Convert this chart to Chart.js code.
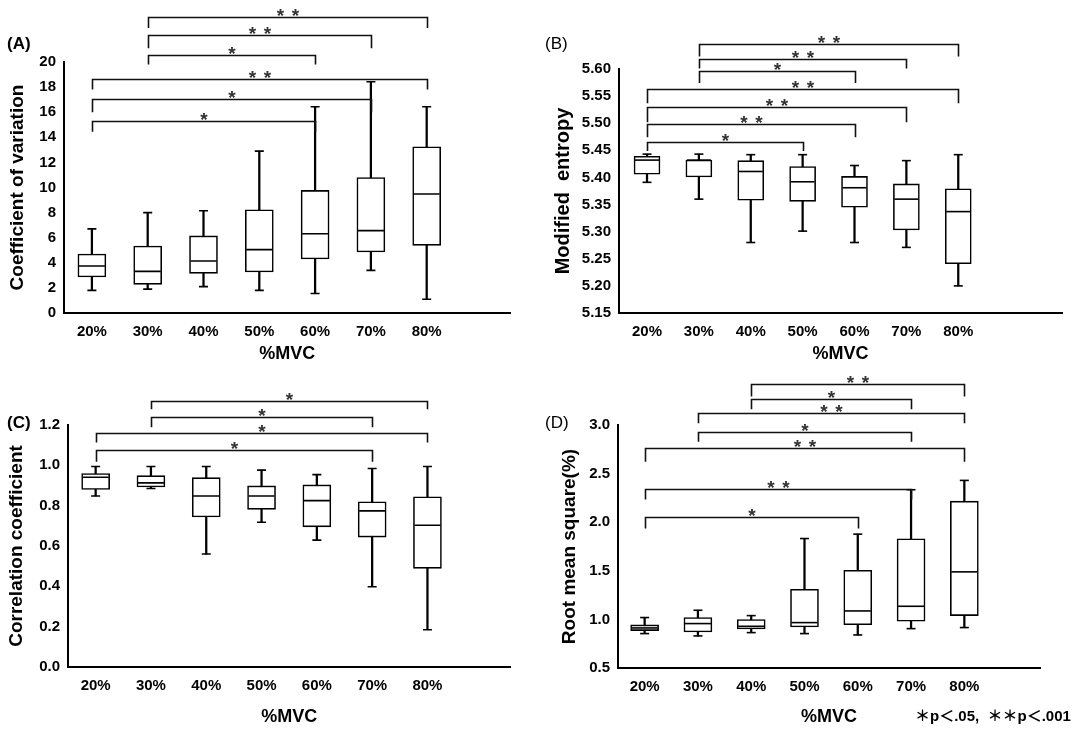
<!DOCTYPE html>
<html>
<head>
<meta charset="utf-8">
<script src="https://cdn.jsdelivr.net/npm/chart.js@4.4.1/dist/chart.umd.min.js"></script>
<style>
body{margin:0;background:#fff;width:1080px;height:731px;position:relative;overflow:hidden}
.panel{position:absolute}
</style>
</head>
<body>
<div class="panel" style="left:0;top:0"><canvas id="cA" width="525" height="370"></canvas></div>
<div class="panel" style="left:530px;top:0"><canvas id="cB" width="550" height="370"></canvas></div>
<div class="panel" style="left:0;top:370px"><canvas id="cC" width="525" height="361"></canvas></div>
<div class="panel" style="left:530px;top:370px"><canvas id="cD" width="550" height="361"></canvas></div>
<script>
Chart.defaults.font.family = "'Liberation Sans', Arial, sans-serif";
Chart.defaults.color = '#000';

var categories = ["20%", "30%", "40%", "50%", "60%", "70%", "80%"];

// (A) coefficient of variation
var cvMin = [1.8, 1.9, 2.1, 1.8, 1.55, 3.4, 1.1];
var cvQ1  = [2.87, 2.28, 3.16, 3.27, 4.3, 4.86, 5.39];
var cvMed = [3.75, 3.32, 4.14, 5.05, 6.32, 6.56, 9.48];
var cvQ3  = [4.7, 5.34, 6.14, 8.23, 9.77, 10.8, 13.25];
var cvMax = [6.7, 8.0, 8.15, 12.9, 16.44, 18.43, 16.44];
var cvTicks = [0, 2, 4, 6, 8, 10, 12, 14, 16, 18, 20];
var cvPairs = [[0, 4], [0, 5], [0, 6], [1, 4], [1, 5], [1, 6]];
var cvTop   = [15.3, 17.05, 18.67, 20.56, 22.18, 23.58];
var cvFoot  = [14.45, 16.0, 17.8, 19.8, 21.1, 22.7];
var cvStars = [1, 1, 2, 1, 2, 2];

// (B) modified entropy
var meMin = [5.391, 5.36, 5.28, 5.301, 5.28, 5.271, 5.2];
var meQ1  = [5.406, 5.401, 5.358, 5.356, 5.345, 5.303, 5.241];
var meMed = [5.432, 5.432, 5.411, 5.392, 5.381, 5.36, 5.337];
var meQ3  = [5.439, 5.432, 5.431, 5.42, 5.402, 5.388, 5.379];
var meMax = [5.443, 5.443, 5.442, 5.442, 5.422, 5.431, 5.442];
var meTicks = [5.15, 5.20, 5.25, 5.30, 5.35, 5.40, 5.45, 5.50, 5.55, 5.60];
var mePairs = [[0, 3], [0, 4], [0, 5], [0, 6], [1, 4], [1, 5], [1, 6]];
var meTop   = [5.466, 5.498, 5.529, 5.564, 5.597, 5.619, 5.647];
var meFoot  = [5.449, 5.474, 5.502, 5.537, 5.574, 5.601, 5.623];
var meStars = [1, 2, 2, 2, 1, 2, 2];

// (C) correlation coefficient
var ccMin = [0.848, 0.885, 0.56, 0.718, 0.629, 0.398, 0.185];
var ccQ1  = [0.88, 0.893, 0.744, 0.782, 0.695, 0.644, 0.489];
var ccMed = [0.941, 0.913, 0.848, 0.848, 0.825, 0.774, 0.703];
var ccQ3  = [0.959, 0.949, 0.939, 0.898, 0.903, 0.819, 0.844];
var ccMax = [0.994, 0.994, 0.994, 0.976, 0.954, 0.984, 0.994];
var ccTicks = [0, 0.2, 0.4, 0.6, 0.8, 1.0, 1.2];
var ccPairs = [[0, 5], [0, 6], [1, 5], [1, 6]];
var ccTop   = [1.075, 1.162, 1.238, 1.32];
var ccFoot  = [1.018, 1.113, 1.189, 1.278];
var ccStars = [1, 1, 1, 1];

// (D) root mean square
var rmMin = [0.854, 0.83, 0.864, 0.854, 0.84, 0.905, 0.916];
var rmQ1  = [0.885, 0.871, 0.902, 0.922, 0.946, 0.981, 1.039];
var rmMed = [0.912, 0.957, 0.929, 0.967, 1.087, 1.135, 1.489];
var rmQ3  = [0.943, 1.019, 0.998, 1.31, 1.506, 1.829, 2.217];
var rmMax = [1.019, 1.094, 1.039, 1.832, 1.877, 2.334, 2.43];
var rmTicks = [0.5, 1.0, 1.5, 2.0, 2.5, 3.0];
var rmPairs = [[0, 4], [0, 5], [0, 6], [1, 5], [1, 6], [2, 5], [2, 6]];
var rmTop   = [2.056, 2.344, 2.76, 2.928, 3.127, 3.27, 3.422];
var rmFoot  = [1.935, 2.234, 2.622, 2.828, 3.017, 3.161, 3.292];
var rmStars = [1, 2, 2, 1, 2, 1, 2];

/**
 * brackets, stars and panel text
 */
var sigPlugin = {
	id: 'sig',
	afterDatasetsDraw: function (chart, args, o) {
		var ctx = chart.ctx, xs = chart.scales.x, ys = chart.scales.y;
		ctx.save();
		ctx.strokeStyle = '#111';
		ctx.lineWidth = 1.6;
		for (var i = 0; i < o.pairs.length; i++) {
			var x1 = Math.round(xs.getPixelForValue(o.pairs[i][0])) + 0.5;
			var x2 = Math.round(xs.getPixelForValue(o.pairs[i][1])) + 0.5;
			var yt = Math.round(ys.getPixelForValue(o.top[i])) + 0.5;
			var yf = ys.getPixelForValue(o.foot[i]);
			ctx.beginPath();
			ctx.moveTo(x1, yf);
			ctx.lineTo(x1, yt);
			ctx.lineTo(x2, yt);
			ctx.lineTo(x2, yf);
			ctx.stroke();
			ctx.fillStyle = '#333';
			ctx.font = 'bold 19px "Liberation Sans", Arial, sans-serif';
			ctx.textAlign = 'center';
			ctx.textBaseline = 'alphabetic';
			var mid = (x1 + x2) / 2;
			if (o.stars[i] == 1) {
				ctx.fillText('*', mid, yt + 4);
			} else {
				ctx.fillText('*', mid - 7.5, yt + 4);
				ctx.fillText('*', mid + 7.5, yt + 4);
			}
		}
		ctx.fillStyle = '#000';
		ctx.textAlign = 'left';
		ctx.textBaseline = 'middle';
		ctx.font = o.labelFont;
		ctx.fillText(o.label, o.labelX, o.labelY);
		if (o.note) {
			ctx.font = 'bold 15px "Liberation Sans", "Noto Sans CJK SC", sans-serif';
			ctx.fillText(o.note, o.noteX, o.noteY);
		}
		ctx.restore();
	}
};

function pts(vals) {
	return vals.map(function (v, i) { return {x: i, y: v}; });
}
function spans(lo, hi) {
	return lo.map(function (v, i) { return {x: i, y: [v, hi[i]]}; });
}

function paintBox(id, p) {
	var boxW = p.boxW;
	var datasets = [
		{type: 'bar', data: spans(p.min, p.max), backgroundColor: '#000', borderWidth: 0,
			barThickness: 1.6, grouped: false, order: 3},
		{type: 'bar', data: spans(p.q1, p.q3), backgroundColor: '#fff', borderColor: '#000',
			borderWidth: 1.6, borderSkipped: false, barThickness: boxW, grouped: false, order: 2},
		{type: 'line', data: pts(p.med), showLine: false, pointStyle: 'line', pointRadius: boxW / 2 - 1,
			pointBorderColor: '#000', pointBorderWidth: 1.6, order: 1},
		{type: 'line', data: pts(p.min), showLine: false, pointStyle: 'line', pointRadius: 4.5,
			pointBorderColor: '#000', pointBorderWidth: 1.6, order: 1},
		{type: 'line', data: pts(p.max), showLine: false, pointStyle: 'line', pointRadius: 4.5,
			pointBorderColor: '#000', pointBorderWidth: 1.6, order: 1}
	];
	var config = {
		type: 'bar',
		data: {datasets: datasets},
		plugins: [sigPlugin],
		options: {
			responsive: false,
			animation: false,
			events: [],
			layout: {padding: p.pad},
			plugins: {
				legend: {display: false},
				tooltip: {enabled: false},
				sig: {
					pairs: p.pairs, top: p.top, foot: p.foot, stars: p.stars,
					label: p.label, labelX: p.labelX, labelY: p.labelY, labelFont: p.labelFont,
					note: p.note, noteX: p.noteX, noteY: p.noteY
				}
			},
			scales: {
				x: {
					type: 'linear',
					offset: false,
					min: p.xMin,
					max: p.xMax,
					grid: {display: false, drawTicks: false},
					border: {display: true, color: '#000', width: 2},
					afterBuildTicks: function (s) {
						s.ticks = categories.map(function (c, i) { return {value: i}; });
					},
					afterFit: function (s) { s.height = p.xH; },
					ticks: {
						autoSkip: false, maxRotation: 0, padding: 10, color: '#000',
						font: {size: 15, weight: 'bold'},
						callback: function (v) { return categories[v]; }
					},
					title: {
						display: true, text: '%MVC', color: '#000',
						font: {size: 18, weight: 'bold'},
						padding: {top: 0, bottom: p.xTitlePad}
					}
				},
				y: {
					type: 'linear',
					beginAtZero: false,
					min: p.ticks[0],
					max: p.ticks[p.ticks.length - 1],
					grid: {display: false, drawTicks: false},
					border: {display: true, color: '#000', width: 2},
					afterBuildTicks: function (s) {
						s.ticks = p.ticks.map(function (v) { return {value: v}; });
					},
					afterFit: function (s) { s.width = p.yW; },
					ticks: {
						padding: 8, color: '#000',
						font: {size: 15, weight: 'bold'},
						callback: function (v) { return v.toFixed(p.dec); }
					},
					title: {
						display: true, text: p.yTitle, color: '#000',
						font: {size: p.yTitleSize, weight: 'bold'},
						padding: {top: p.yTitlePad, bottom: 0}
					}
				}
			}
		}
	};
	var ctx = document.getElementById(id).getContext('2d');
	return new Chart(ctx, config);
}

window.chartA = paintBox('cA', {
	min: cvMin, q1: cvQ1, med: cvMed, q3: cvQ3, max: cvMax, ticks: cvTicks, dec: 0,
	pairs: cvPairs, top: cvTop, foot: cvFoot, stars: cvStars,
	boxW: 28, xMin: -0.5, xMax: 7.5, pad: {top: 62, right: 7, left: 0, bottom: 0},
	yW: 64, xH: 57, xTitlePad: 5, yTitle: 'Coefficient of variation', yTitleSize: 19, yTitlePad: 6.6,
	label: '(A)', labelX: 7, labelY: 44, labelFont: 'bold 17px "Liberation Sans", Arial, sans-serif'
});
window.chartB = paintBox('cB', {
	min: meMin, q1: meQ1, med: meMed, q3: meQ3, max: meMax, ticks: meTicks, dec: 2,
	pairs: mePairs, top: meTop, foot: meFoot, stars: meStars,
	boxW: 26, xMin: -0.54, xMax: 8.0, pad: {top: 69, right: 18, left: 0, bottom: 0},
	yW: 89, xH: 57, xTitlePad: 5, yTitle: 'Modified  entropy', yTitleSize: 20, yTitlePad: 21,
	label: '(B)', labelX: 15, labelY: 44, labelFont: '17px "Liberation Sans", Arial, sans-serif'
});
window.chartC = paintBox('cC', {
	min: ccMin, q1: ccQ1, med: ccMed, q3: ccQ3, max: ccMax, ticks: ccTicks, dec: 1,
	pairs: ccPairs, top: ccTop, foot: ccFoot, stars: ccStars,
	boxW: 28, xMin: -0.5, xMax: 7.5, pad: {top: 55, right: 7, left: 0, bottom: 0},
	yW: 68, xH: 64, xTitlePad: 3, yTitle: 'Correlation coefficient', yTitleSize: 19, yTitlePad: 5.6,
	label: '(C)', labelX: 7, labelY: 53, labelFont: 'bold 17px "Liberation Sans", Arial, sans-serif'
});
window.chartD = paintBox('cD', {
	min: rmMin, q1: rmQ1, med: rmMed, q3: rmQ3, max: rmMax, ticks: rmTicks, dec: 1,
	pairs: rmPairs, top: rmTop, foot: rmFoot, stars: rmStars,
	boxW: 28, xMin: -0.5, xMax: 7.42, pad: {top: 55, right: 40, left: 0, bottom: 0},
	yW: 88, xH: 63, xTitlePad: 3, yTitle: 'Root mean square(%)', yTitleSize: 19, yTitlePad: 28.6,
	label: '(D)', labelX: 15, labelY: 53, labelFont: '17px "Liberation Sans", Arial, sans-serif',
	note: '＊p＜.05,  ＊＊p＜.001', noteX: 385, noteY: 347
});
</script>
</body>
</html>
